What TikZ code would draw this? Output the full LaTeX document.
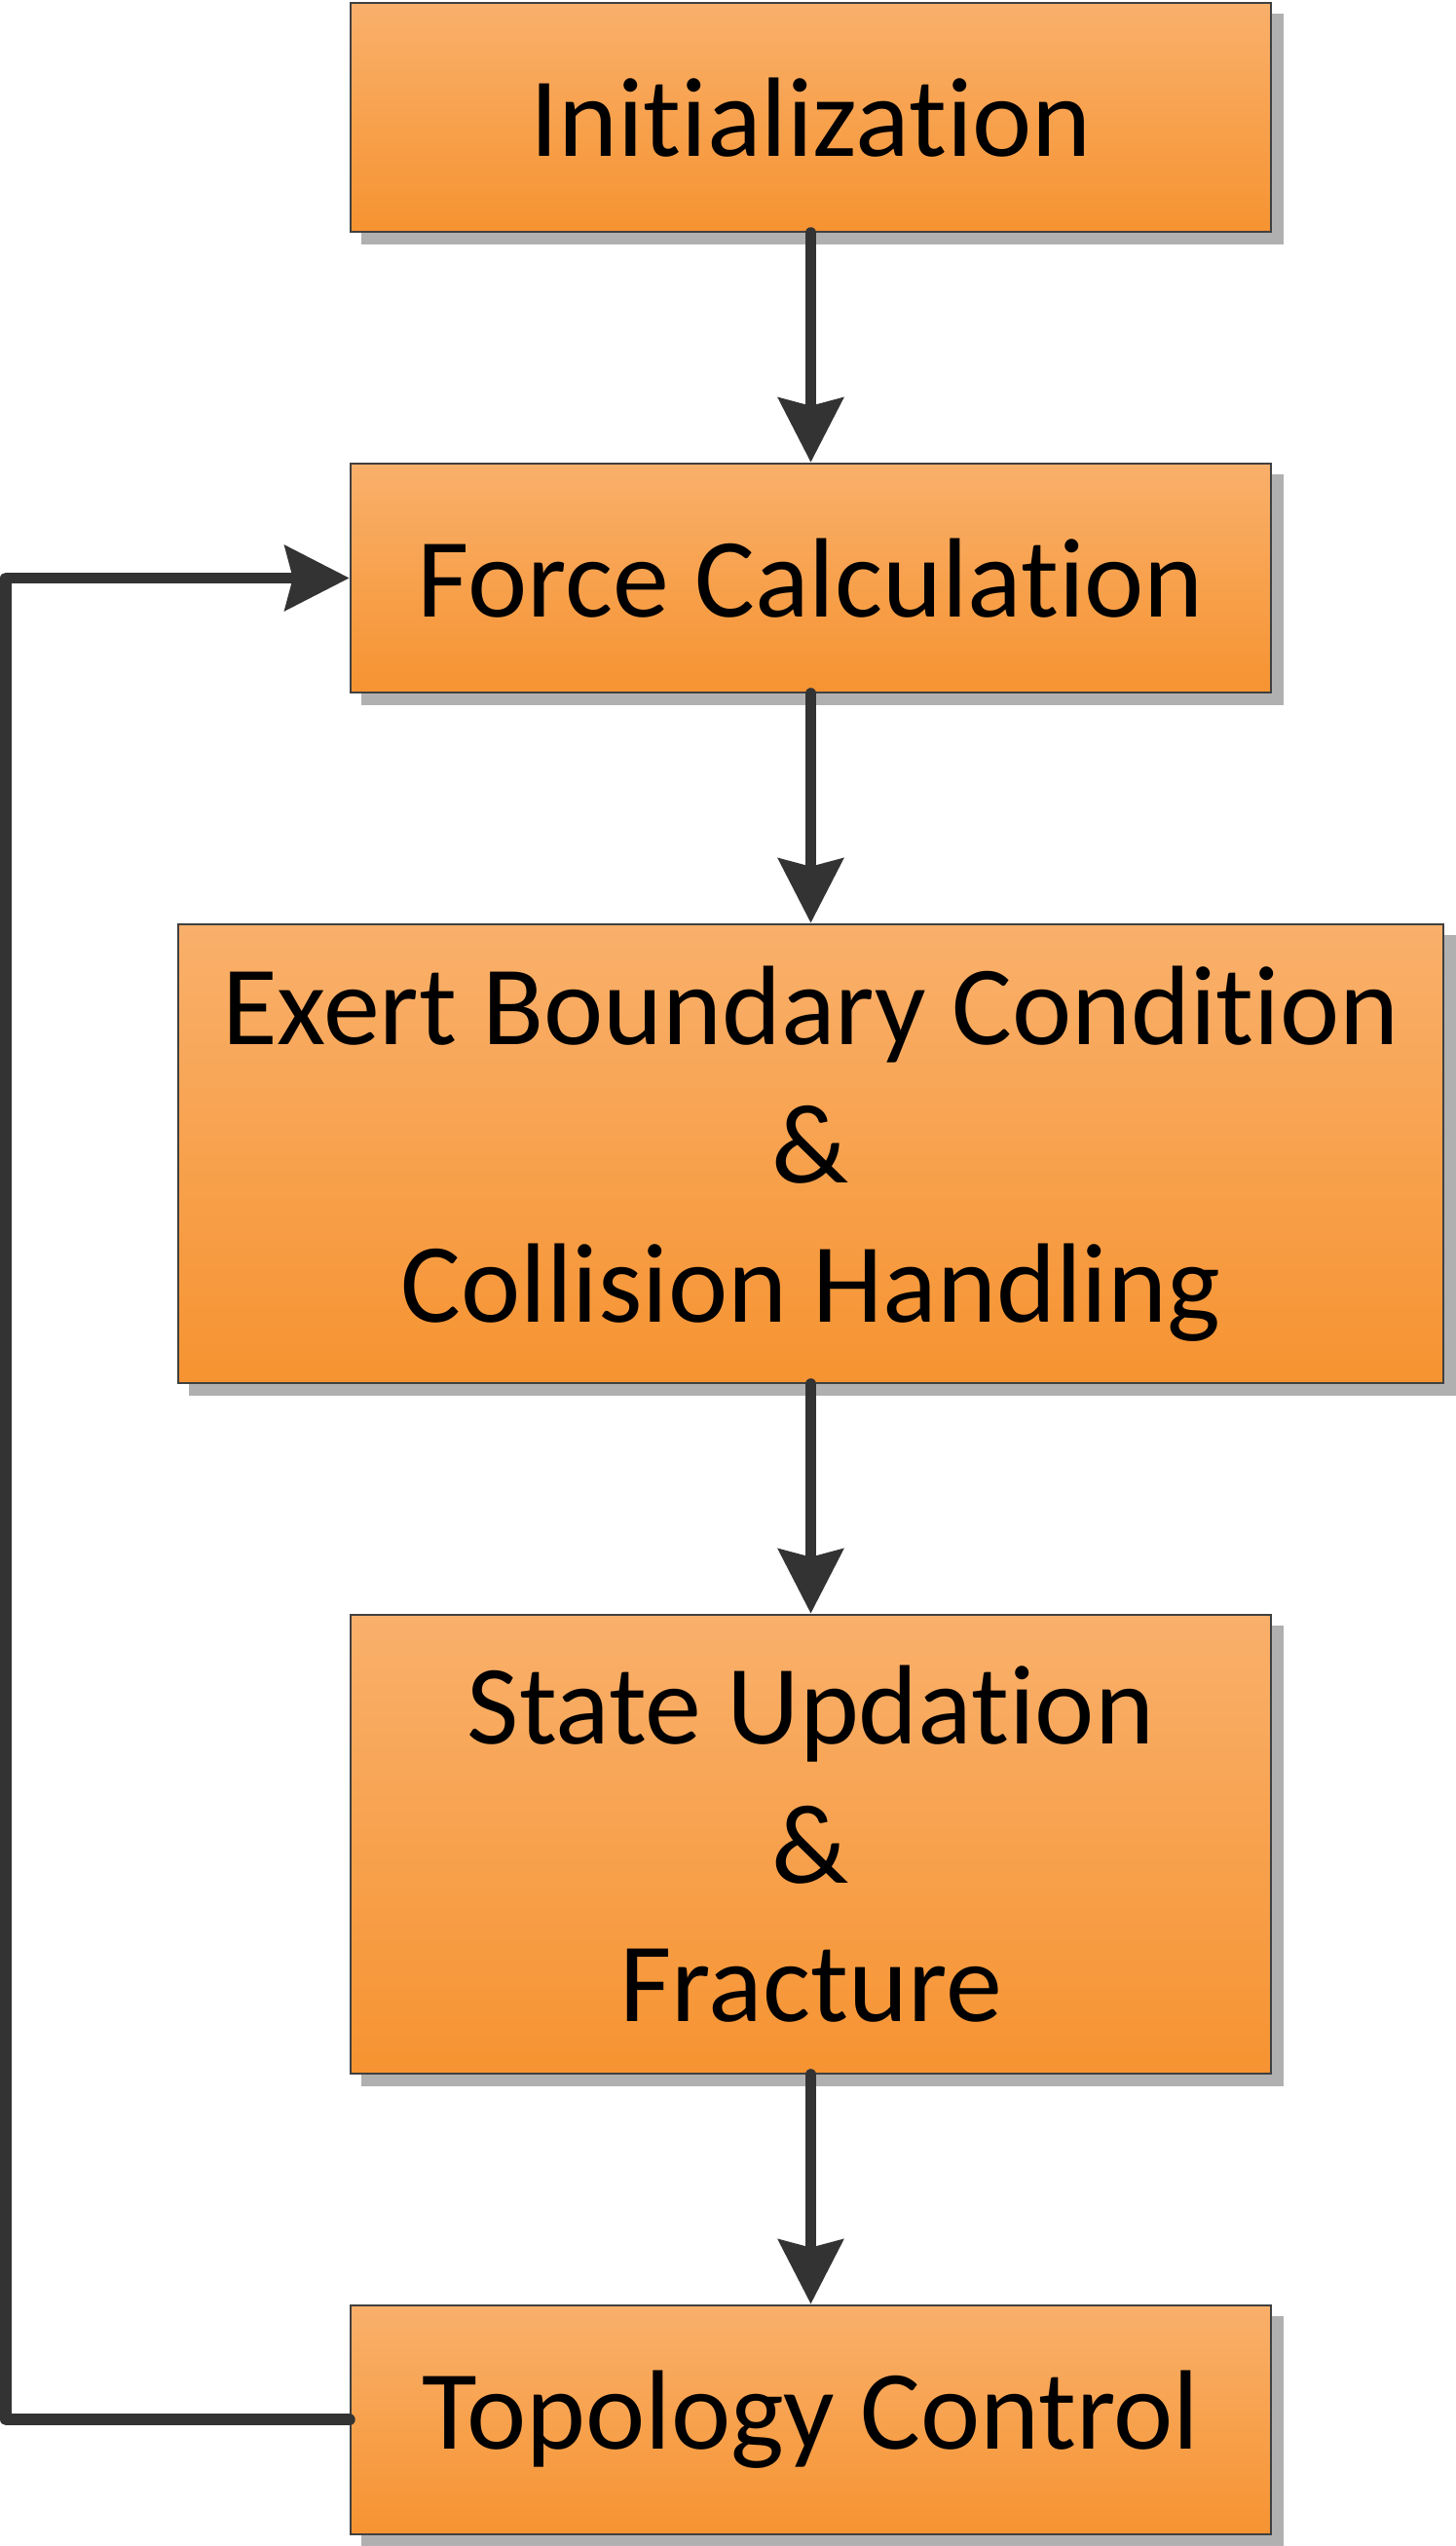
\documentclass[tikz,border=0pt]{standalone}
\usepackage{fontspec}
\setmainfont{Carlito}[Ligatures=NoCommon]
\usetikzlibrary{arrows.meta,positioning,backgrounds}

\definecolor{boxtop}{HTML}{F9B06B}
\definecolor{boxbot}{HTML}{F69331}
\definecolor{boxline}{HTML}{404040}
\definecolor{arrowgray}{HTML}{333333}
\definecolor{shadowgray}{HTML}{B0B0B0}

\tikzset{
  stepbox/.style={draw=boxline, line width=0.7pt, top color=boxtop, bottom color=boxbot,
    minimum width=9.45cm, minimum height=2.35cm, inner sep=0pt, align=center,
    font=\fontsize{33}{40.5}\selectfont},
  flow/.style={draw=arrowgray, line width=3.4pt, line cap=round, line join=round,
    -{Stealth[length=0.66cm,width=0.66cm,inset=0.08cm]}},
}

\begin{document}
\begin{tikzpicture}[node distance=2.355cm]
  \useasboundingbox (0,0) rectangle (14.95,-26.14);

  \node[stepbox] (init) at (8.325,-1.205) {Initialization};
  \node[stepbox, below=of init] (force) {Force Calculation};
  \node[stepbox, below=of force, minimum width=12.99cm, minimum height=4.71cm] (bound)
    {Exert Boundary Condition\\\&\\Collision Handling};
  \node[stepbox, below=of bound, minimum height=4.71cm] (update)
    {State Updation\\\&\\Fracture};
  \node[stepbox, below=of update] (topo) {Topology Control};

  % shadows behind the boxes
  \begin{scope}[on background layer]
    \foreach \n in {init,force,bound,update,topo}
      \fill[shadowgray] ([shift={(0.12,-0.12)}]\n.south west) rectangle ([shift={(0.12,-0.12)}]\n.north east);
  \end{scope}

  \draw[flow] (init) -- (force);
  \draw[flow] (force) -- (bound);
  \draw[flow] (bound) -- (update);
  \draw[flow] (update) -- (topo);

  % loop back
  \coordinate (back) at ([xshift=-3.525cm]topo.west);
  \draw[flow] (topo.west) -- (back) |- (force.west);
\end{tikzpicture}
\end{document}
